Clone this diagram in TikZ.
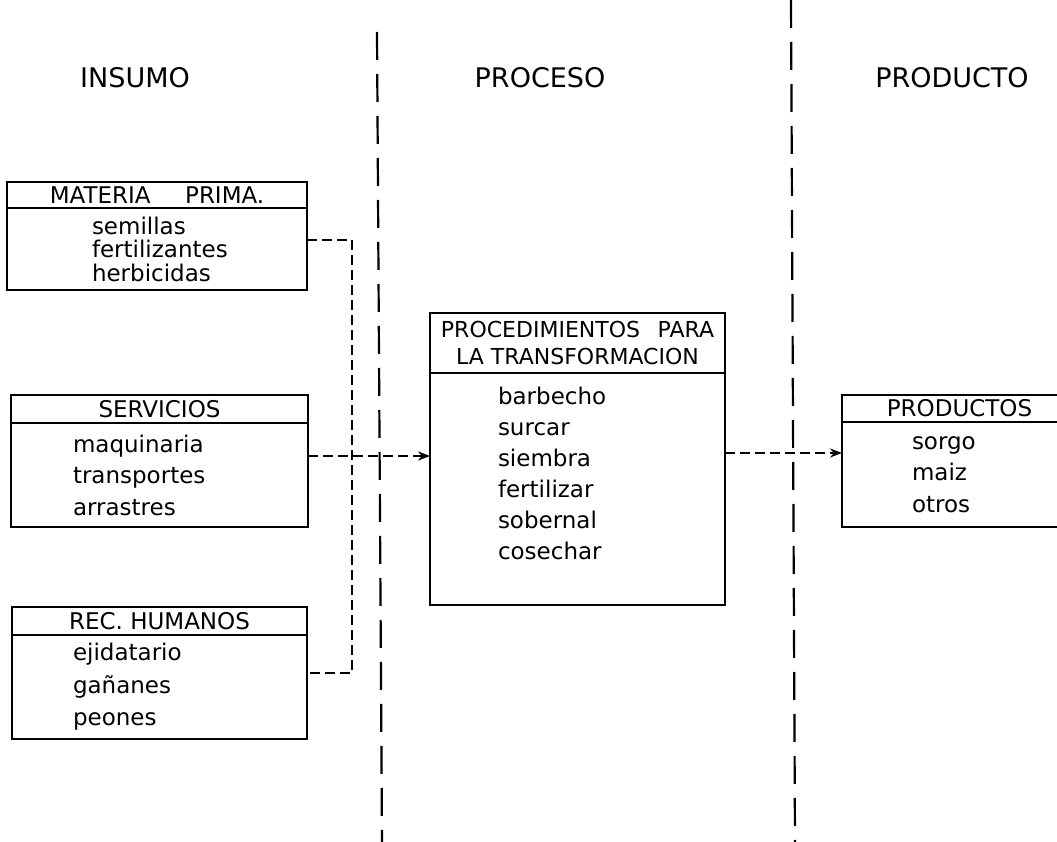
\documentclass[tikz,border=0pt]{standalone}
\usepackage{fontspec}
\setmainfont{DejaVu Sans}
\usepackage{tikz}
\usetikzlibrary{positioning}
\usetikzlibrary{arrows.meta}

\tikzset{
  colhead/.style={font=\fontsize{27}{32}\selectfont, inner sep=0pt},
  boxhead/.style={draw, line width=2.4pt, inner sep=0pt, anchor=north west, font=\fontsize{23}{27}\selectfont},
  boxbody/.style={draw, line width=2.4pt},
  boxitems/.style={align=left, inner sep=0pt, font=\fontsize{23}{31}\selectfont},
  flow/.style={line width=1.9pt, dash pattern=on 10pt off 5pt},
  divider/.style={line width=2.2pt, dash pattern=on 28pt off 14pt},
  tip/.style={-{Stealth[length=12pt, width=9pt]}},
}

\begin{document}
\begin{tikzpicture}[x=1pt, y=-1pt, node distance=0pt, outer sep=0pt]
\useasboundingbox (0,0) rectangle (1057,842);
\clip (0,0) rectangle (1057,842);

% Titles
\node [colhead] (insumo) at (135,78) {INSUMO};
\node [colhead] (proceso) at (540,78) {PROCESO};
\node [colhead] (producto) at (952,78) {PRODUCTO};

% Dividers
\draw [divider] (377,32) -- (382,842);
\draw [divider] (791,0) -- (795,842);

% Materia prima
\node [boxhead, minimum width=300pt, minimum height=26pt] (mat_head) at (7,182) {MATERIA\hspace{1.5em}PRIMA.};
\node [boxbody, minimum width=300pt, minimum height=82pt, below=of mat_head] (mat_body) {};
\node [boxitems, font=\fontsize{23}{23.5}\selectfont, right=85pt of mat_body.west] (mat_list) {semillas\\fertilizantes\\herbicidas};

% Servicios
\node [boxhead, minimum width=297pt, minimum height=28pt] (ser_head) at (11,395) {SERVICIOS};
\node [boxbody, minimum width=297pt, minimum height=104pt, below=of ser_head] (ser_body) {};
\node [boxitems, font=\fontsize{23}{31.5}\selectfont, right=62pt of ser_body.west] (ser_list) {maquinaria\\transportes\\arrastres};

% Recursos humanos
\node [boxhead, minimum width=295pt, minimum height=28pt] (hum_head) at (12,607) {REC. HUMANOS};
\node [boxbody, minimum width=295pt, minimum height=104pt, below=of hum_head] (hum_body) {};
\node [boxitems, font=\fontsize{23}{32.5}\selectfont, right=61pt of hum_body.west] (hum_list) {ejidatario\\gañanes\\peones};

% Procedimientos
\node [boxhead, minimum width=295pt, minimum height=60pt, align=center, font=\fontsize{22}{27}\selectfont] (proc_head) at (430,313) {PROCEDIMIENTOS\hspace{0.8em}PARA\\LA TRANSFORMACION};
\node [boxbody, minimum width=295pt, minimum height=232pt, below=of proc_head] (proc_body) {};
\node [boxitems, text depth=32pt, right=68pt of proc_body.west] (proc_list) {barbecho\\surcar\\siembra\\fertilizar\\sobernal\\cosechar};

% Productos
\node [boxhead, minimum width=235pt, minimum height=27pt] (prod_head) at (842,395) {PRODUCTOS};
\node [boxbody, minimum width=235pt, minimum height=105pt, below=of prod_head] (prod_body) {};
\node [boxitems, font=\fontsize{23}{31.5}\selectfont, right=70pt of prod_body.west] (prod_list) {sorgo\\maiz\\otros};

% Flows
\coordinate (bus) at (352,240);
\coordinate (ser_out) at ([yshift=19pt]ser_body.east);
\coordinate (proc_out) at ([yshift=36pt]proc_body.east);
\draw [flow] ([yshift=9pt]mat_body.east) -| (bus) |- ([yshift=14pt]hum_body.east);
\draw [flow, tip] (ser_out) -- (ser_out -| proc_body.west);
\draw [flow, tip] (proc_out) -- (proc_out -| prod_body.west);

\end{tikzpicture}
\end{document}
